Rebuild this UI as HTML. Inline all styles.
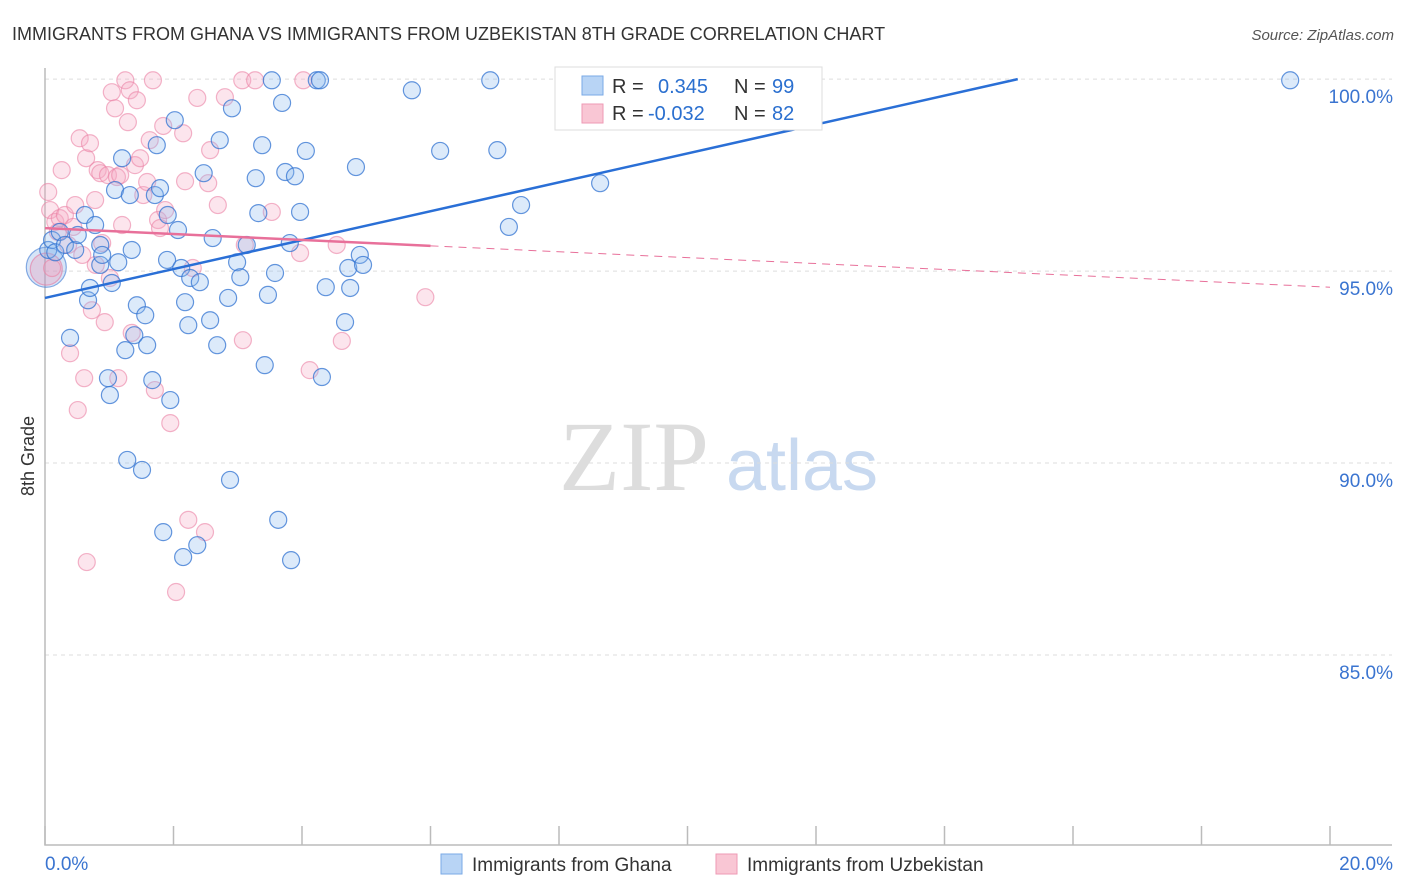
<!DOCTYPE html>
<html><head><meta charset="utf-8"><style>
body{margin:0;background:#fff;font-family:"Liberation Sans",sans-serif;}
svg{display:block}
</style></head><body>
<svg id="chart" width="1406" height="892">
<text x="12" y="40" font-size="18" fill="#333">IMMIGRANTS FROM GHANA VS IMMIGRANTS FROM UZBEKISTAN 8TH GRADE CORRELATION CHART</text>
<text x="1394" y="40" font-size="15" fill="#555" font-style="italic" text-anchor="end">Source: ZipAtlas.com</text>
<text transform="translate(34,456) rotate(-90)" font-size="18" fill="#333" text-anchor="middle">8th Grade</text>
<g>
<text x="634" y="490" font-size="100" font-family="Liberation Serif,serif" fill="#ddd" text-anchor="middle">ZIP</text>
<text x="802" y="490" font-size="72" fill="#c8d9f0" text-anchor="middle">atlas</text>
</g>
<g id="grid"></g><g id="axes"></g><g id="pts"></g><g id="trend"></g>
<g>
<rect x="555" y="67" width="267" height="63" fill="#fff" stroke="#ddd"/>
<rect x="582" y="76" width="21" height="19" fill="#b8d4f5" stroke="#7aaae6"/>
<rect x="582" y="104" width="21" height="19" fill="#f9c6d4" stroke="#ee9ab4"/>
<text x="612" y="93" font-size="20" fill="#333">R = </text><text x="658" y="93" font-size="20" fill="#2a6fcf">0.345</text>
<text x="734" y="93" font-size="20" fill="#333">N = </text><text x="772" y="93" font-size="20" fill="#2a6fcf">99</text>
<text x="612" y="120" font-size="20" fill="#333">R = </text><text x="648" y="120" font-size="20" fill="#2a6fcf">-0.032</text>
<text x="734" y="120" font-size="20" fill="#333">N = </text><text x="772" y="120" font-size="20" fill="#2a6fcf">82</text>
</g>
<g>
<rect x="441" y="854" width="21" height="20" fill="#b8d4f5" stroke="#7aaae6"/>
<text x="472" y="871" font-size="19" fill="#333">Immigrants from Ghana</text>
<rect x="716" y="854" width="21" height="20" fill="#f9c6d4" stroke="#ee9ab4"/>
<text x="747" y="871" font-size="19" fill="#333">Immigrants from Uzbekistan</text>
</g>
</svg>
<script>
const yTicks=[100,95,90,85];
const yTickLabels=["100.0%","95.0%","90.0%","85.0%"];
const xTicks=[0,2,4,6,8,10,12,14,16,18,20];
const ghanaX=[0.05,0.11,0.16,0.23,0.31,0.39,0.47,0.51,0.62,0.67,0.70,0.78,0.86,0.86,0.89,0.98,1.01,1.04,1.09,1.14,1.20,1.25,1.28,1.32,1.35,1.39,1.43,1.51,1.56,1.59,1.67,1.71,1.74,1.79,1.84,1.90,1.91,1.95,2.02,2.07,2.12,2.15,2.18,2.23,2.26,2.37,2.41,2.47,2.57,2.61,2.68,2.72,2.85,2.88,2.91,2.99,3.04,3.14,3.28,3.32,3.38,3.42,3.47,3.53,3.58,3.63,3.69,3.74,3.81,3.83,3.89,3.97,4.06,4.23,4.28,4.31,4.37,4.67,4.72,4.75,4.84,4.90,4.95,5.71,6.15,6.93,7.04,7.22,7.41,8.23,8.64,9.20,19.38];
const ghanaY=[95.55,95.81,95.49,96.02,95.68,93.26,95.55,95.94,96.46,94.24,94.56,96.20,95.68,95.16,95.42,92.21,91.77,94.69,97.11,95.23,97.94,92.94,90.08,96.98,95.55,93.33,94.11,89.82,93.85,93.07,92.16,96.98,98.28,97.16,88.20,95.29,96.46,91.64,98.93,96.07,95.08,87.55,94.19,93.59,94.82,87.86,94.71,97.55,93.72,95.86,93.07,98.41,94.30,89.56,99.24,95.23,94.84,95.68,97.42,96.51,98.28,92.55,94.38,99.97,94.95,88.52,99.38,97.58,95.73,87.47,97.47,96.54,98.13,99.97,99.97,92.24,94.58,93.67,95.08,94.56,97.71,95.42,95.16,99.71,98.13,99.97,98.15,96.15,96.72,99.97,97.29,99.97,99.97];
const uzbX=[0.05,0.08,0.11,0.16,0.20,0.23,0.26,0.31,0.36,0.39,0.44,0.47,0.51,0.54,0.58,0.61,0.64,0.65,0.70,0.73,0.78,0.79,0.82,0.86,0.89,0.93,0.98,1.01,1.04,1.09,1.12,1.14,1.17,1.20,1.25,1.29,1.32,1.35,1.40,1.43,1.48,1.53,1.59,1.63,1.68,1.71,1.76,1.79,1.84,1.87,1.95,2.04,2.15,2.18,2.23,2.30,2.37,2.49,2.54,2.57,2.69,2.80,3.07,3.08,3.11,3.27,3.53,3.97,4.02,4.12,4.54,4.62,5.92];
const uzbY=[97.06,96.59,95.08,96.28,96.02,96.38,97.63,96.46,95.68,92.86,96.15,96.72,91.38,98.46,95.42,92.21,97.94,87.42,98.33,93.98,96.85,95.16,97.63,97.55,95.73,93.67,97.50,94.82,99.66,99.24,97.45,92.21,97.50,96.20,99.97,98.88,99.71,93.39,97.76,99.45,97.94,96.98,97.32,98.41,99.97,91.90,96.33,96.12,98.78,96.59,91.04,86.64,98.59,97.34,88.52,95.08,99.51,88.20,97.29,98.15,96.72,99.53,99.97,93.20,95.68,99.97,96.54,95.47,99.97,92.42,95.68,93.18,94.32];
const ghanaTrend=[94.30,100];const ghanaTrendX=[0,15.14];
const uzbTrend=[96.12,94.58];const uzbSolidEnd=6;
const NS="http://www.w3.org/2000/svg";
const X=v=>45+v/20*1285;
const Y=v=>845-(v-80.05)/(100.29-80.05)*777;
function mk(p,tag,a){const e=document.createElementNS(NS,tag);for(const k in a)e.setAttribute(k,a[k]);document.getElementById(p).appendChild(e);return e;}
yTicks.forEach((t,i)=>{
 const l=mk('grid','line',{x1:45,x2:1392,y1:Y(t),y2:Y(t),stroke:'#ddd','stroke-dasharray':'4,4'});
 
 
 const tx=mk('grid','text',{x:1393,y:Y(t)+24,'font-size':19,fill:'#3a74d0','text-anchor':'end'});
 tx.textContent=yTickLabels[i];
 
 
});
const ax=mk('axes','path',{d:'M45 68V845H1392',fill:'none',stroke:'#bbb','stroke-width':1.5});


xTicks.forEach(t=>{
 const l=mk('axes','line',{x1:X(t),x2:X(t),y1:826,y2:845,stroke:'#bbb','stroke-width':1.5});
 
 
});
const xl0=mk('axes','text',{x:45,y:870,'font-size':19,fill:'#3a74d0'});xl0.textContent='0.0%';


const xl1=mk('axes','text',{x:1393,y:870,'font-size':19,fill:'#3a74d0','text-anchor':'end'});xl1.textContent='20.0%';


function dot(x,y,r,fill,stroke,name){
 const c=mk('pts','circle',{cx:X(x),cy:Y(y),r:r,fill:fill,stroke:stroke,'stroke-width':1.2});
 
 
}
dot(0.02,95.1,20,'rgba(120,165,230,0.3)','rgba(60,120,210,0.6)','ghana-point-large');
dot(0.02,95.05,16,'rgba(240,150,180,0.3)','rgba(230,120,160,0.6)','uzbekistan-point-large');
uzbX.forEach((x,i)=>dot(x,uzbY[i],8.5,'rgba(245,170,195,0.3)','rgba(235,130,165,0.6)','uzbekistan-point'));
ghanaX.forEach((x,i)=>dot(x,ghanaY[i],8.5,'rgba(140,185,240,0.3)','rgba(50,115,210,0.75)','ghana-point'));
const bl=mk('trend','line',{x1:X(ghanaTrendX[0]),y1:Y(ghanaTrend[0]),x2:X(ghanaTrendX[1]),y2:Y(ghanaTrend[1]),stroke:'#2a6fd6','stroke-width':2.5});


const pAt=x=>uzbTrend[0]+(uzbTrend[1]-uzbTrend[0])*x/20;
const pl=mk('trend','line',{x1:X(0),y1:Y(pAt(0)),x2:X(uzbSolidEnd),y2:Y(pAt(uzbSolidEnd)),stroke:'#e8709a','stroke-width':2.5});


const pd=mk('trend','line',{x1:X(uzbSolidEnd),y1:Y(pAt(uzbSolidEnd)),x2:X(20),y2:Y(pAt(20)),stroke:'#e8709a','stroke-width':1,'stroke-dasharray':'8,6'});


</script>
</body></html>
